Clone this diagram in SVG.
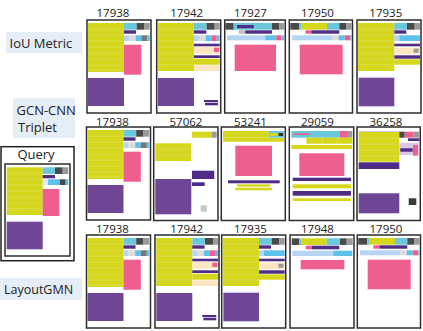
<svg xmlns="http://www.w3.org/2000/svg" width="423" height="331" viewBox="0 0 423 331">
<style>
.fr{fill:#fff;stroke:#2d2d2d;stroke-width:1.5}
.y{fill:#d5d71c}
.pk{fill:#ee5e8e}
.pu{fill:#6f4595}
.dp{fill:#4f2c86}
.cy{fill:#6ac7dc}
.bl{fill:#5ec1ec}
.lb{fill:#b5d5f3}
.lg{fill:#dcdcdc}
.dg{fill:#4a4a4a}
.gr{fill:#9a9a9a}
.pe{fill:#fde6c3}
.lv{fill:#dcc8e4}
.st{stroke:#e0e264;stroke-width:.6}
.num{font-family:"Open Sans","DejaVu Sans",sans-serif;font-size:11.5px;fill:#222;text-anchor:middle}
.lab{font-family:"Open Sans","DejaVu Sans",sans-serif;font-size:13px;fill:#222}
.lbox{fill:#e5edf7}
</style>
<defs>
<g id="t17938">
<rect class="fr" x="0" y="0" width="64" height="93"/>
<rect class="y" x="1" y="3" width="36" height="49"/>
<path class="st" d="M1 9H37M1 15H37M1 21H37M1 27H37M1 33H37M1 39H37M1 45H37M1 50H37"/>
<rect class="cy" x="37" y="3" width="12.7" height="6.7"/>
<rect class="dg" x="49.7" y="3" width="7.3" height="6.7"/>
<rect class="gr" x="57" y="3" width="5.7" height="6.7"/>
<rect class="dp" x="37" y="10.3" width="12" height="3.4"/>
<rect class="lb" x="37" y="15.3" width="5" height="5.7"/>
<rect class="lg" x="42" y="15.3" width="6.7" height="5.7"/>
<rect class="bl" x="48.7" y="15.3" width="5.6" height="5.7"/>
<rect fill="#777" x="54.3" y="15.3" width="6" height="5.7"/>
<rect class="bl" x="60.3" y="15.3" width="2.4" height="5.7"/>
<rect class="pk" x="37" y="24.7" width="17.3" height="30"/>
<rect class="pu" x="1" y="58" width="36" height="28"/>
</g>
<g id="t17942">
<rect class="fr" x="0" y="0" width="64" height="93"/>
<rect class="y" x="1.3" y="3" width="36" height="48"/>
<path class="st" d="M1.3 9H37.3M1.3 15H37.3M1.3 21H37.3M1.3 27H37.3M1.3 33H37.3M1.3 39H37.3M1.3 45H37.3"/>
<rect class="cy" x="37.3" y="3" width="12.7" height="6.7"/>
<rect class="dg" x="50" y="3" width="8" height="6.7"/>
<rect class="gr" x="58" y="3" width="5" height="6.7"/>
<rect class="dp" x="37.3" y="10.3" width="12.3" height="3.4"/>
<rect class="lb" x="37.3" y="15.3" width="5" height="5.7"/>
<rect class="lg" x="42.3" y="15.3" width="6.7" height="5.7"/>
<rect class="bl" x="49" y="15.3" width="6" height="5.7"/>
<rect class="pk" x="55" y="15.3" width="5" height="5.7"/>
<rect class="bl" x="60" y="15.3" width="3" height="5.7"/>
<rect class="dp" x="37.3" y="23.7" width="25.7" height="2.6"/>
<rect class="pe" x="37.3" y="27" width="25.7" height="6.7"/>
<rect class="pk" x="57.3" y="27.7" width="5" height="4.3"/>
<rect class="dp" x="37.3" y="35.3" width="25.7" height="2.7"/>
<rect class="y" x="37.3" y="38.7" width="25.7" height="6"/>
<rect class="pe" x="37.3" y="45.3" width="25.7" height="5.7"/>
<rect class="pu" x="1.3" y="58" width="36" height="28"/>
<rect class="dp" x="47.3" y="80" width="14" height="2"/>
<rect class="dp" x="48.3" y="82.7" width="13" height="2.6"/>
</g>
<g id="t17935">
<rect class="fr" x="0" y="0" width="64" height="93"/>
<rect class="y" x="1" y="3" width="36.3" height="48"/>
<path class="st" d="M1 9H37.3M1 15H37.3M1 21H37.3M1 27H37.3M1 33H37.3M1 39H37.3M1 45H37.3"/>
<rect class="cy" x="37.3" y="3" width="12.7" height="6.7"/>
<rect class="dg" x="50" y="3" width="7.7" height="6.7"/>
<rect class="gr" x="57.7" y="3" width="5.3" height="6.7"/>
<rect class="dp" x="37.3" y="10.3" width="12" height="3.4"/>
<rect class="lb" x="37.3" y="15.3" width="5" height="5.7"/>
<rect class="bl" x="42.3" y="15.3" width="20.7" height="5.7"/>
<rect class="dp" x="37.3" y="23.7" width="25.7" height="2.6"/>
<rect class="pe" x="37.3" y="27.7" width="25.7" height="6.6"/>
<rect class="gr" x="56.7" y="28.7" width="5" height="4"/>
<rect class="dp" x="37.3" y="35.3" width="25.7" height="3.4"/>
<rect class="y" x="37.3" y="39.3" width="25.7" height="5.4"/>
<rect class="pu" x="1.7" y="57.7" width="35.6" height="28.6"/>
</g>
<g id="t17950">
<rect class="fr" x="0" y="0" width="63.2" height="93"/>
<rect class="dg" x="1" y="3" width="9" height="6.7"/>
<rect class="cy" x="10" y="3" width="1.7" height="6.7"/>
<rect class="y" x="11.7" y="3" width="26" height="6.7"/>
<rect class="cy" x="37.7" y="3" width="12.3" height="6.7"/>
<rect class="dg" x="50" y="3" width="6.7" height="6.7"/>
<rect class="gr" x="56.7" y="3" width="5.8" height="6.7"/>
<rect class="pk" x="16" y="10.3" width="6" height="3.4"/>
<rect class="dp" x="22" y="10.3" width="28" height="3.4"/>
<rect class="lb" x="2.7" y="15.3" width="40" height="5"/>
<rect class="lg" x="42.7" y="15.3" width="6.7" height="5"/>
<rect class="bl" x="49.4" y="15.3" width="6" height="5"/>
<rect class="pk" x="55.4" y="15.3" width="5.6" height="5"/>
<rect class="bl" x="61" y="15.3" width="1.5" height="5"/>
<rect class="pk" x="10.4" y="24.7" width="43" height="29.6"/>
</g>
</defs>

<g id="labels">
<rect class="lbox" x="6" y="32" width="76" height="21"/>
<text class="lab" x="9.5" y="47.5">IoU Metric</text>
<rect class="lbox" x="13" y="98" width="62" height="40"/>
<text class="lab" x="16.5" y="114.5">GCN-CNN</text>
<text class="lab" x="18" y="131.5">Triplet</text>
<rect class="lbox" x="0" y="278" width="82" height="22"/>
<text class="lab" x="4" y="294" style="font-size:12.5px">LayoutGMN</text>
</g>

<g id="query">
<rect fill="#fff" stroke="#222" stroke-width="1.5" x="1" y="146.7" width="73" height="114"/>
<text class="lab" x="36" y="158.5" text-anchor="middle">Query</text>
<g transform="translate(5,164)">
<rect class="fr" x="0" y="0" width="65" height="92"/>
<rect class="y" x="1.7" y="3.3" width="36" height="47.7"/>
<path class="st" d="M1.7 9H37.7M1.7 15H37.7M1.7 21H37.7M1.7 27H37.7M1.7 33H37.7M1.7 39H37.7M1.7 45H37.7"/>
<rect class="cy" x="37.7" y="3.3" width="12.3" height="6.7"/>
<rect class="dg" x="50" y="3.3" width="7.7" height="6.7"/>
<rect class="gr" x="57.7" y="3.3" width="5.6" height="6.7"/>
<rect class="dp" x="37.7" y="11" width="12.3" height="3.3"/>
<rect fill="#dfe9f7" x="37.7" y="15.3" width="5.3" height="5.7"/>
<rect class="bl" x="43" y="15.3" width="11.7" height="5.7"/>
<rect class="dg" x="54.7" y="15.3" width="6" height="5.7"/>
<rect class="bl" x="60.7" y="15.3" width="2.6" height="5.7"/>
<rect class="pk" x="37.7" y="25" width="16.6" height="27"/>
<rect class="pu" x="1.7" y="57.7" width="36" height="27.6"/>
</g>
</g>

<g id="row1">
<g id="r1c1"><text class="num" x="113" y="16.5">17938</text><use href="#t17938" x="87" y="20"/></g>
<g id="r1c2"><text class="num" x="186.7" y="16.5">17942</text><use href="#t17942" x="156.7" y="20"/></g>
<g id="r1c3"><text class="num" x="250.5" y="16.5">17927</text>
<g transform="translate(224.7,20)">
<rect class="fr" x="0" y="0" width="60.6" height="93"/>
<rect class="dg" x="0.7" y="3" width="8.3" height="6.7"/>
<rect class="cy" x="9" y="3" width="38.3" height="6.7"/>
<rect class="dp" x="12.3" y="5" width="16.7" height="3.3"/>
<rect class="dg" x="47.3" y="3" width="7.3" height="6.7"/>
<rect class="gr" x="54.6" y="3" width="5.3" height="6.7"/>
<rect fill="#bbb" x="14" y="10.3" width="6.6" height="3.4"/>
<rect class="dp" x="20.6" y="10.3" width="26.7" height="3.4"/>
<rect class="lb" x="2.3" y="15.3" width="38.3" height="5"/>
<rect class="bl" x="40.6" y="15.3" width="11" height="5"/>
<rect class="pk" x="51.6" y="15.3" width="5" height="5"/>
<rect class="bl" x="56.6" y="15.3" width="2.7" height="5"/>
<rect class="pk" x="10" y="24.7" width="41.3" height="26.3"/>
</g></g>
<g id="r1c4"><text class="num" x="317.5" y="16.5">17950</text><use href="#t17950" x="289.3" y="20"/></g>
<g id="r1c5"><text class="num" x="385.8" y="16.5">17935</text><use href="#t17935" x="357" y="20"/></g>
</g>

<g id="row2">
<g id="r2c1"><text class="num" x="112.5" y="125.5">17938</text><use href="#t17938" x="86.5" y="127"/></g>
<g id="r2c2"><text class="num" x="186" y="125.5">57062</text>
<g transform="translate(153.7,127)">
<rect class="fr" x="0" y="0" width="64.3" height="93.5"/>
<rect class="y" x="38.3" y="4.7" width="20" height="6"/>
<rect class="gr" x="58.3" y="4.7" width="4.7" height="6"/>
<rect class="y" x="1.6" y="16.3" width="36" height="17.7"/>
<path class="st" d="M1.6 22H37.6M1.6 28H37.6"/>
<rect class="dp" x="38.3" y="43.7" width="22.3" height="8.3"/>
<rect class="dp" x="38.3" y="55.3" width="12.7" height="3.7"/>
<rect class="pu" x="1.6" y="52" width="36" height="35.3"/>
<rect fill="#c8c8c8" x="47" y="78.3" width="6.3" height="6.4"/>
</g></g>
<g id="r2c3"><text class="num" x="250.5" y="125.5">53241</text>
<g transform="translate(221.3,127)">
<rect class="fr" x="0" y="0" width="64" height="93.5"/>
<rect class="y" x="1.7" y="4" width="45.7" height="6.7"/>
<rect class="y" x="1.7" y="10.7" width="61" height="4"/>
<rect class="cy" x="47.4" y="4" width="15.3" height="6.7"/>
<rect class="y" x="48.7" y="6" width="7" height="3"/>
<rect fill="#333" x="57.4" y="6" width="4.3" height="3"/>
<rect class="pk" x="14" y="18.7" width="36.7" height="30.3"/>
<rect class="dp" x="6.7" y="53.3" width="51.7" height="3"/>
<rect class="y" x="15.7" y="57.3" width="33.3" height="2.4"/>
<rect class="y" x="14" y="60.7" width="36.7" height="2.6"/>
</g></g>
<g id="r2c4"><text class="num" x="317.5" y="125.5">29059</text>
<g transform="translate(289.3,127)">
<rect class="fr" x="0" y="0" width="64.4" height="93.5"/>
<rect class="cy" x="2" y="4" width="48.4" height="6.7"/>
<rect class="pk" x="4.4" y="6.3" width="16.6" height="1.7"/>
<rect class="pk" x="50.4" y="4" width="7.3" height="6.7"/>
<rect class="gr" x="57.7" y="4" width="5.3" height="6.7"/>
<rect class="y" x="17" y="10.7" width="46" height="6"/>
<path class="st" d="M33 10.7V16.7M48 10.7V16.7"/>
<rect class="y" x="2" y="18" width="60.7" height="4"/>
<rect class="pk" x="10" y="26.3" width="45" height="22.7"/>
<rect class="dp" x="3.4" y="50.7" width="58.3" height="3.3"/>
<rect class="y" x="3.4" y="57.3" width="58.3" height="4"/>
<rect class="dp" x="3.4" y="64" width="58.3" height="4.7"/>
<rect class="y" x="3.4" y="71.3" width="58.3" height="2.7"/>
</g></g>
<g id="r2c5"><text class="num" x="386" y="125.5">36258</text>
<g transform="translate(357,127)">
<rect class="fr" x="0" y="0" width="63.3" height="93.5"/>
<rect class="lv" x="1.7" y="4" width="40.6" height="1.5"/>
<rect class="y" x="1.7" y="5" width="40.6" height="29.7"/>
<path class="st" d="M1.7 11H42.3M1.7 17H42.3M1.7 23H42.3M1.7 29H42.3"/>
<rect class="dg" x="42.3" y="4.7" width="5.4" height="6"/>
<rect class="pk" x="47.7" y="4.7" width="9" height="6"/>
<rect class="gr" x="56.7" y="4.7" width="5.9" height="6"/>
<rect class="dp" x="51" y="11.3" width="11.6" height="2.7"/>
<rect class="lv" x="42.3" y="15.7" width="19.4" height="12.3"/>
<rect class="dp" x="43.3" y="21.3" width="12.4" height="3.4"/>
<rect class="pk" x="56" y="18" width="5" height="10.7"/>
<rect class="dp" x="1.7" y="35.3" width="40.6" height="6.7"/>
<rect class="pu" x="1.7" y="66.3" width="40.6" height="20"/>
<rect fill="#3a3a3a" x="51.7" y="71.3" width="7.6" height="6.7"/>
</g></g>
</g>

<g id="row3">
<g id="r3c1"><text class="num" x="112.5" y="233">17938</text><use href="#t17938" x="86.5" y="235"/></g>
<g id="r3c2"><text class="num" x="186.7" y="233">17942</text><use href="#t17942" x="155" y="235"/></g>
<g id="r3c3"><text class="num" x="250.5" y="233">17935</text><use href="#t17935" x="221.7" y="235"/></g>
<g id="r3c4"><text class="num" x="317.5" y="233">17948</text>
<g transform="translate(290,235)">
<rect class="fr" x="0" y="0" width="64" height="93"/>
<rect class="dg" x="1.7" y="3.3" width="7.6" height="6.7"/>
<rect class="cy" x="9.3" y="3.3" width="1.7" height="6.7"/>
<rect class="y" x="11" y="3.3" width="25.7" height="6.7"/>
<rect class="cy" x="36.7" y="3.3" width="13.3" height="6.7"/>
<rect class="dg" x="50" y="3.3" width="6.7" height="6.7"/>
<rect class="gr" x="56.7" y="3.3" width="6" height="6.7"/>
<rect class="pk" x="15.7" y="10.7" width="6" height="3.6"/>
<rect class="dp" x="21.7" y="10.7" width="27.6" height="3.6"/>
<rect class="lb" x="2.3" y="15.7" width="41" height="5.3"/>
<rect class="bl" x="43.3" y="15.7" width="19" height="5.3"/>
<rect class="pk" x="10.7" y="25" width="43.6" height="9.3"/>
</g></g>
<g id="r3c5"><text class="num" x="386" y="233">17950</text><use href="#t17950" x="357.3" y="235"/></g>
</g>
</svg>
